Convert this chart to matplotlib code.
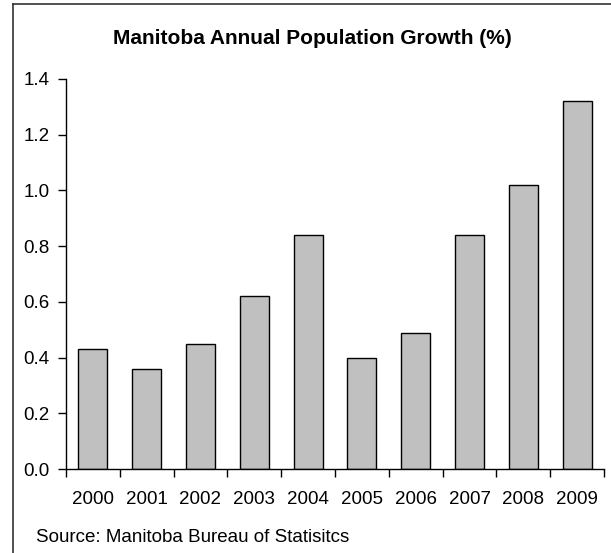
import matplotlib
matplotlib.use("Agg")
import matplotlib.pyplot as plt
from matplotlib.lines import Line2D
from matplotlib.ticker import FixedLocator, NullFormatter, FixedFormatter

plt.rcParams['font.family'] = ['Liberation Sans', 'DejaVu Sans']

# data
years = ['2000', '2001', '2002', '2003', '2004', '2005', '2006', '2007', '2008', '2009']
growth = [0.43, 0.36, 0.45, 0.62, 0.84, 0.40, 0.49, 0.84, 1.02, 1.32]
yticks = [0.0, 0.2, 0.4, 0.6, 0.8, 1.0, 1.2, 1.4]

W, H = 611, 553
fig = plt.figure(figsize=(W / 100, H / 100), dpi=100)

# outer frame (left and top edges visible)
fig.add_artist(Line2D([13 / W, 13 / W], [0, 1 - 4 / H], color='#333333', lw=1.2))
fig.add_artist(Line2D([13 / W, 1], [1 - 4 / H, 1 - 4 / H], color='#333333', lw=1.2))

ax = fig.add_axes([66 / W, 84 / H, 538 / W, 390 / H])
x = list(range(len(years)))
ax.bar(x, growth, width=0.54, color='#c0c0c0', edgecolor='black', linewidth=1.0)

ax.set_xlim(-0.5, len(years) - 0.5)
ax.set_ylim(0, 1.4)
ax.set_yticks(yticks)
ax.set_yticklabels([f'{v:.1f}' for v in yticks])

# category boundaries get tick marks, centers get labels
ax.xaxis.set_major_locator(FixedLocator([i - 0.5 for i in range(len(years) + 1)]))
ax.xaxis.set_major_formatter(NullFormatter())
ax.xaxis.set_minor_locator(FixedLocator(x))
ax.xaxis.set_minor_formatter(FixedFormatter(years))
ax.tick_params(axis='x', which='major', direction='out', length=6, width=1)
ax.tick_params(axis='x', which='minor', length=0, pad=16, labelsize=13.5)
ax.tick_params(axis='y', direction='out', length=6, width=1, pad=6, labelsize=13.5)

for s in ['top', 'right']:
    ax.spines[s].set_visible(False)
for s in ['left', 'bottom']:
    ax.spines[s].set_linewidth(1.0)

fig.text(312 / W, 1 - 39 / H, 'Manitoba Annual Population Growth (%)',
         ha='center', va='center', fontsize=15, fontweight='bold')
fig.text(36 / W, 1 - 537 / H, 'Source: Manitoba Bureau of Statisitcs',
         ha='left', va='center', fontsize=13.5)

fig.savefig('out.png', dpi=100)
